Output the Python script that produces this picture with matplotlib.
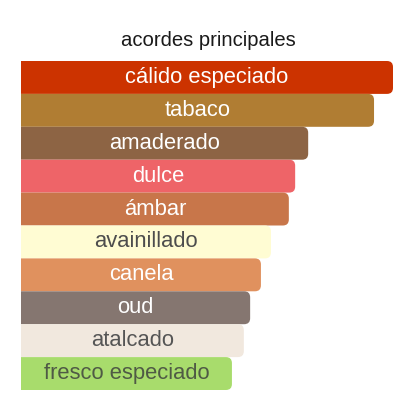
import matplotlib
matplotlib.use('Agg')
import matplotlib.pyplot as plt
from matplotlib.patches import FancyBboxPatch

# acordes principales (ancho relativo en %)
acordes = ['cálido especiado', 'tabaco', 'amaderado', 'dulce', 'ámbar',
           'avainillado', 'canela', 'oud', 'atalcado', 'fresco especiado']
valores = [100, 94.9, 77.2, 73.7, 72.0, 67.2, 64.5, 61.6, 59.9, 56.7]
colores = ['#cc3300', '#b07d33', '#8d6444', '#ee6468', '#c8764a',
           '#fffcd3', '#e0915e', '#857670', '#f1e8de', '#a8dc6c']
texto_col = ['white', 'white', 'white', 'white', 'white',
             '#4d4d4d', 'white', 'white', '#555555', '#4f5a45']

plt.rcParams['font.family'] = ['Liberation Sans', 'DejaVu Sans']

fig = plt.figure(figsize=(4.16, 4.16), dpi=100)
ax = fig.add_axes([21 / 416, 26 / 416, 372 / 416, 329 / 416])

pos = list(range(len(acordes)))
bars = ax.barh(pos, valores, height=1.0, color=colores)
ax.set_xlim(0, 100)
ax.set_ylim(len(acordes) - 0.5, -0.5)

# esquinas redondeadas solo a la derecha (la izquierda queda fuera del eje)
px_x = 100 / 372
px_y = len(acordes) / 329
for b, c in zip(bars, colores):
    b.set_visible(False)
    x, y = b.get_x(), b.get_y()
    w, h = b.get_width(), b.get_height()
    p = FancyBboxPatch((x - 3, y), w + 3, h,
                       boxstyle=f"round,pad=0,rounding_size={6 * px_x}",
                       mutation_aspect=px_y / px_x,
                       facecolor=c, edgecolor='none')
    ax.add_patch(p)

for i, (nombre, v) in enumerate(zip(acordes, valores)):
    ax.text(v / 2, i, nombre, ha='center', va='center',
            fontsize=15.8, color=texto_col[i])

ax.axis('off')
fig.text(0.5, 1 - 40 / 416, 'acordes principales', ha='center', va='center',
         fontsize=14.6, color='#1a1a1a')

fig.savefig('out.png', dpi=100)
plt.close(fig)
